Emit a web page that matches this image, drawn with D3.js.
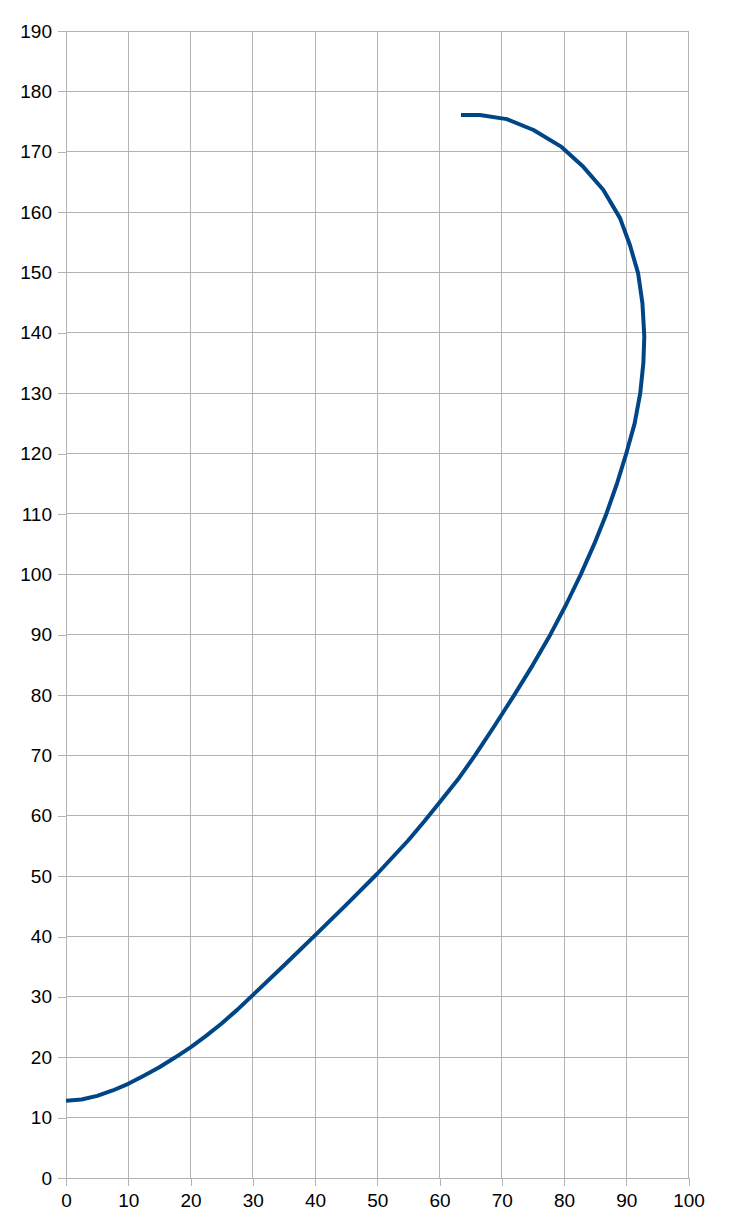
<!DOCTYPE html>
<html>
<head>
<meta charset="utf-8">
<script src="https://cdn.jsdelivr.net/npm/d3@7"></script>
<style>
  html, body { margin: 0; padding: 0; background: #ffffff; }
  svg { display: block; }
</style>
</head>
<body>
<svg id="chart" width="730" height="1230"></svg>
<script>
// Data (x, y pairs along the trajectory)
const xValues = [0, 2.5, 5, 7.5, 10, 12.5, 15, 17.5, 20, 22.5, 25, 27.5, 30, 35, 40, 45, 50, 55, 57.5, 60, 62.95, 65.7, 68.9, 72, 75, 77.8, 80.35, 82.7, 84.85, 86.8, 88.5, 90, 91.35, 92.25, 92.75, 92.9, 92.6, 91.9, 90.6, 89.0, 86.3, 83.1, 79.6, 75.1, 70.8, 66.5, 63.45];
const yValues = [12.8, 13.0, 13.6, 14.5, 15.6, 16.95, 18.35, 19.95, 21.65, 23.55, 25.6, 27.85, 30.3, 35.2, 40.2, 45.25, 50.4, 55.95, 59.0, 62.2, 66, 70, 75, 80, 85, 90, 95, 100, 105, 110, 115, 120, 125, 130, 135, 139.4, 144.9, 149.9, 154.5, 159.0, 163.7, 167.5, 170.8, 173.6, 175.4, 176.1, 176.1];
const xTicks = [0, 10, 20, 30, 40, 50, 60, 70, 80, 90, 100];
const yTicks = [0, 10, 20, 30, 40, 50, 60, 70, 80, 90, 100, 110, 120, 130, 140, 150, 160, 170, 180, 190];

const svg = d3.select("#chart");
const plotLeft = 66, plotRight = 688.5, plotTop = 31, plotBottom = 1178;

const x = d3.scaleLinear().domain([0, 100]).range([plotLeft, plotRight]);
const y = d3.scaleLinear().domain([0, 190]).range([plotBottom, plotTop]);

const gridColor = "#b3b3b3";

// grid
svg.append("g").selectAll("line").data(xTicks).join("line")
  .attr("x1", d => x(d)).attr("x2", d => x(d))
  .attr("y1", plotTop).attr("y2", plotBottom)
  .attr("stroke", gridColor).attr("stroke-width", 1).attr("shape-rendering", "crispEdges");
svg.append("g").selectAll("line").data(yTicks).join("line")
  .attr("x1", plotLeft).attr("x2", plotRight)
  .attr("y1", d => y(d)).attr("y2", d => y(d))
  .attr("stroke", gridColor).attr("stroke-width", 1).attr("shape-rendering", "crispEdges");

// axes
const yAxis = d3.axisLeft(y).tickValues(yTicks).tickSizeInner(8).tickSizeOuter(0).tickPadding(6).tickFormat(d3.format("d"));
const xAxis = d3.axisBottom(x).tickValues(xTicks).tickSizeInner(8).tickSizeOuter(0).tickPadding(8).tickFormat(d3.format("d"));

const gy = svg.append("g").attr("transform", `translate(${plotLeft},0)`).call(yAxis);
const gx = svg.append("g").attr("transform", `translate(0,${plotBottom})`).call(xAxis);

[gx, gy].forEach(g => {
  g.selectAll("path.domain").attr("stroke", gridColor).attr("stroke-width", 1.5).attr("shape-rendering", "crispEdges");
  g.selectAll(".tick line").attr("stroke", gridColor).attr("stroke-width", 1).attr("shape-rendering", "crispEdges");
  g.selectAll(".tick text")
    .attr("fill", "#000000")
    .style("font-family", "'Liberation Sans', Arial, sans-serif")
    .style("font-size", "19px");
});

// line
const pts = xValues.map((v, i) => [v, yValues[i]]);
svg.append("path")
  .datum(pts)
  .attr("fill", "none")
  .attr("stroke", "#004586")
  .attr("stroke-width", 4)
  .attr("stroke-linejoin", "round")
  .attr("d", d3.line().x(d => x(d[0])).y(d => y(d[1])).curve(d3.curveLinear));
</script>
</body>
</html>
